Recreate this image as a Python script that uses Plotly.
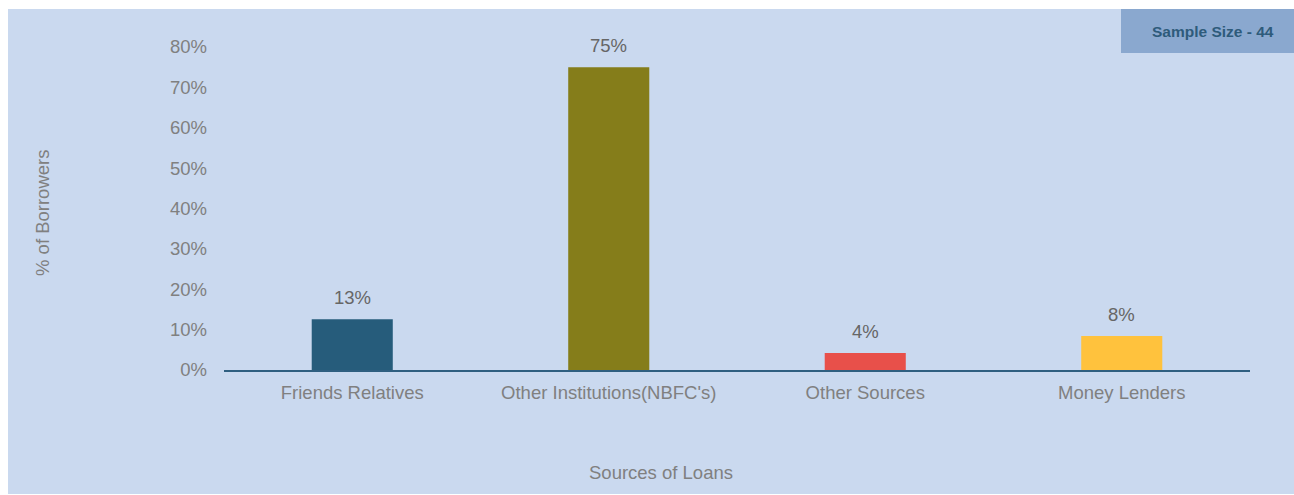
import plotly.graph_objects as go

categories = ["Friends Relatives", "Other Institutions(NBFC's)", "Other Sources", "Money Lenders"]
values = [12.6, 75.0, 4.2, 8.4]
labels = ["13%", "75%", "4%", "8%"]
colors = ["#265c7b", "#857d1a", "#e8504a", "#ffc23d"]
tick_vals = [0, 10, 20, 30, 40, 50, 60, 70, 80]
tick_text = [f"{v}%" for v in tick_vals]

W, H = 1294, 495
ml, mr, mt, mb = 224, 44, 47, 125
pw, ph = W - ml - mr, H - mt - mb
BG = "#cad9ef"
FS = 18.5
GRAY = "#808080"


def px_x(x):
    return (x - ml) / pw


def px_y(y):
    return 1 - (y - mt) / ph


fig = go.Figure(go.Bar(
    x=categories, y=values, marker_color=colors, marker_line_width=0,
    cliponaxis=False, width=0.316, hoverinfo="skip",
))

annotations = [
    dict(x=c, y=v, xref="x", yref="y", text=t, showarrow=False, yanchor="bottom",
         yshift=9, font=dict(size=FS, color="#666666"))
    for c, v, t in zip(categories, values, labels)
]
annotations += [
    dict(text="% of Borrowers", textangle=-90, x=px_x(42), xref="paper", xanchor="center",
         y=px_y(213), yref="paper", yanchor="middle", showarrow=False,
         font=dict(size=FS, color=GRAY)),
    dict(text="Sources of Loans", x=px_x(661), xref="paper", xanchor="center",
         y=px_y(473), yref="paper", yanchor="middle", showarrow=False,
         font=dict(size=FS, color=GRAY)),
    dict(text="<b>Sample Size - 44</b>", x=px_x(1213), xref="paper", xanchor="center",
         y=px_y(32), yref="paper", yanchor="middle", showarrow=False,
         font=dict(size=15.5, color="#2e5b7b")),
]

fig.update_layout(
    width=W, height=H,
    margin=dict(l=ml, r=mr, t=mt, b=mb),
    paper_bgcolor="white", plot_bgcolor=BG,
    font=dict(family="Arial, Liberation Sans, sans-serif", color=GRAY, size=FS),
    showlegend=False,
    xaxis=dict(showgrid=False, showline=True, linecolor="#2f5f80", linewidth=2,
               tickfont=dict(size=FS, color=GRAY), ticklabelstandoff=5,
               zeroline=False, fixedrange=True),
    yaxis=dict(range=[0, 80], tickvals=tick_vals, ticktext=tick_text, showgrid=False,
               zeroline=False, showline=False, tickfont=dict(size=FS, color=GRAY),
               ticklabelstandoff=16, fixedrange=True),
    annotations=annotations,
    shapes=[
        dict(type="rect", xref="paper", yref="paper", x0=px_x(8), x1=px_x(1300),
             y0=px_y(494), y1=px_y(9), fillcolor=BG, line_width=0, layer="below"),
        dict(type="rect", xref="paper", yref="paper", x0=px_x(1121), x1=px_x(1300),
             y0=px_y(53), y1=px_y(9), fillcolor="#8aa8cf", line_width=0, layer="below"),
    ],
)

fig.write_html("out.html")
